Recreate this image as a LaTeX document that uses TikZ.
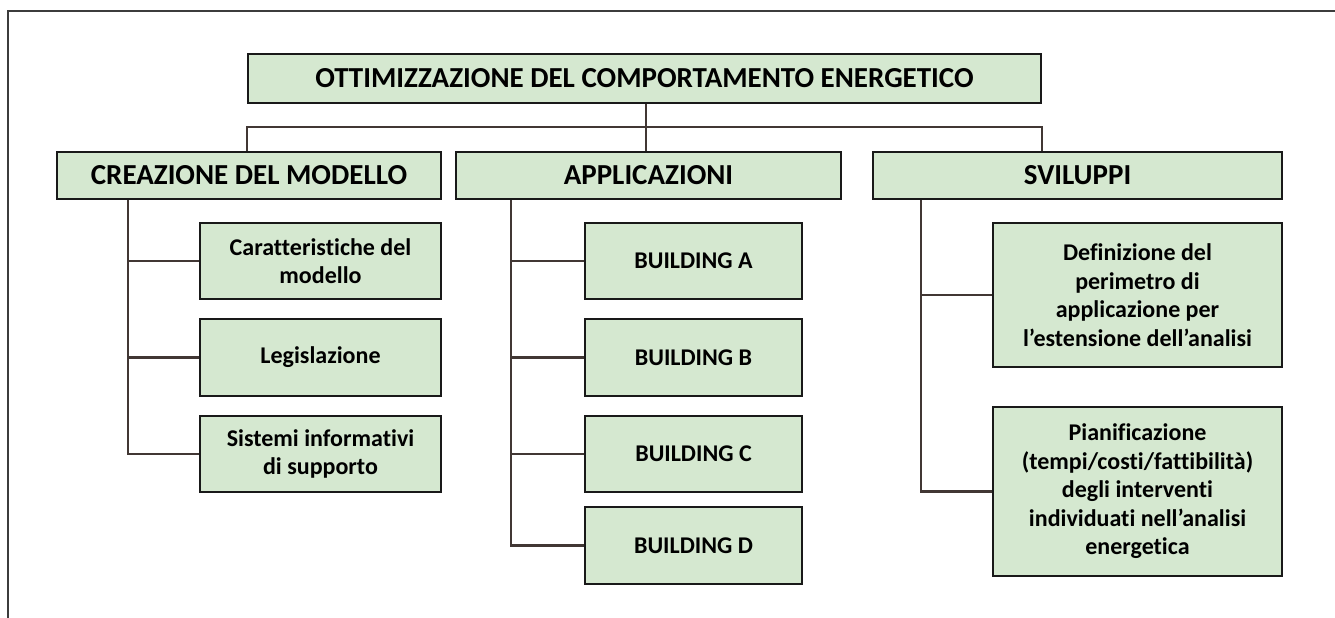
\documentclass[tikz,border=0pt]{standalone}
\usepackage{fontspec}
\setmainfont{Carlito}[Ligatures=NoCommon]
\definecolor{boxgreen}{RGB}{213,232,208}
\definecolor{boxline}{RGB}{25,25,25}
\definecolor{linkgray}{RGB}{65,55,52}
\definecolor{framegray}{RGB}{60,60,60}
\tikzset{
  headbox/.style={draw=boxline, fill=boxgreen, line width=2.2pt, inner sep=0pt,
    font=\fontsize{29}{34}\selectfont\bfseries},
  itembox/.style={draw=boxline, fill=boxgreen, line width=2.2pt, inner sep=0pt,
    align=center, font=\fontsize{24}{28.5}\selectfont\bfseries},
  link/.style={draw=linkgray, line width=2.4pt}
}

\begin{document}
\begin{tikzpicture}[x=1pt, y=-1pt]
  \useasboundingbox (0,0) rectangle (1335,618);
  % Frame (only top and left edges show)
  \draw[framegray, line width=1.5pt] (8,618) -- (8,11) -- (1335,11);

  % Root
  \node[headbox, minimum width=793pt, minimum height=49pt] (root) at (644.5,78.5)
    {OTTIMIZZAZIONE DEL COMPORTAMENTO ENERGETICO};

  % Branches
  \node[headbox, minimum width=384pt, minimum height=47pt] (model) at (249,175.5) {CREAZIONE DEL MODELLO};
  \node[headbox, minimum width=385pt, minimum height=47pt] (apps) at (648.5,175.5) {APPLICAZIONI};
  \node[headbox, minimum width=409pt, minimum height=47pt] (devel) at (1077.5,175.5) {SVILUPPI};

  % Model items
  \node[itembox, minimum width=241pt, minimum height=76pt] (features) at (320.5,261) {Caratteristiche del\\modello};
  \node[itembox, minimum width=241pt, minimum height=77pt] (laws) at (320.5,357.5) {Legislazione};
  \node[itembox, minimum width=241pt, minimum height=76pt] (infosys) at (320.5,454) {Sistemi informativi\\di supporto};

  % Buildings
  \node[itembox, minimum width=217pt, minimum height=76pt] (bldA) at (693.5,261) {BUILDING A};
  \node[itembox, minimum width=217pt, minimum height=77pt] (bldB) at (693.5,357.5) {BUILDING B};
  \node[itembox, minimum width=217pt, minimum height=76pt] (bldC) at (693.5,454) {BUILDING C};
  \node[itembox, minimum width=217pt, minimum height=77pt] (bldD) at (693.5,545.5) {BUILDING D};

  % Developments
  \node[itembox, minimum width=289pt, minimum height=144pt] (scope) at (1137.5,295)
    {Definizione del\\perimetro di\\applicazione per\\l’estensione dell’analisi};
  \node[itembox, minimum width=289pt, minimum height=169pt] (plan) at (1137.5,491.5)
    {Pianificazione\\(tempi/costi/fattibilità)\\degli interventi\\individuati nell’analisi\\energetica};

  % Root to branches
  \coordinate (split) at (646,127);
  \coordinate (trunkM) at (128,0);
  \coordinate (trunkA) at (511,0);
  \coordinate (trunkS) at (921,0);
  \draw[link] (split |- root.south) -- (split |- apps.north);
  \draw[link] (model.north -| root.west) |- (split) -| (devel.north -| root.east);

  % Branches to items
  \draw[link] (trunkM |- model.south) |- (infosys.west);
  \draw[link] (trunkM |- features.west) -- (features.west);
  \draw[link] (trunkM |- laws.west) -- (laws.west);
  \draw[link] (trunkA |- apps.south) |- (bldD.west);
  \foreach \b in {bldA,bldB,bldC}
    \draw[link] (trunkA |- \b.west) -- (\b.west);
  \draw[link] (trunkS |- devel.south) |- (plan.west);
  \draw[link] (trunkS |- scope.west) -- (scope.west);
\end{tikzpicture}
\end{document}
